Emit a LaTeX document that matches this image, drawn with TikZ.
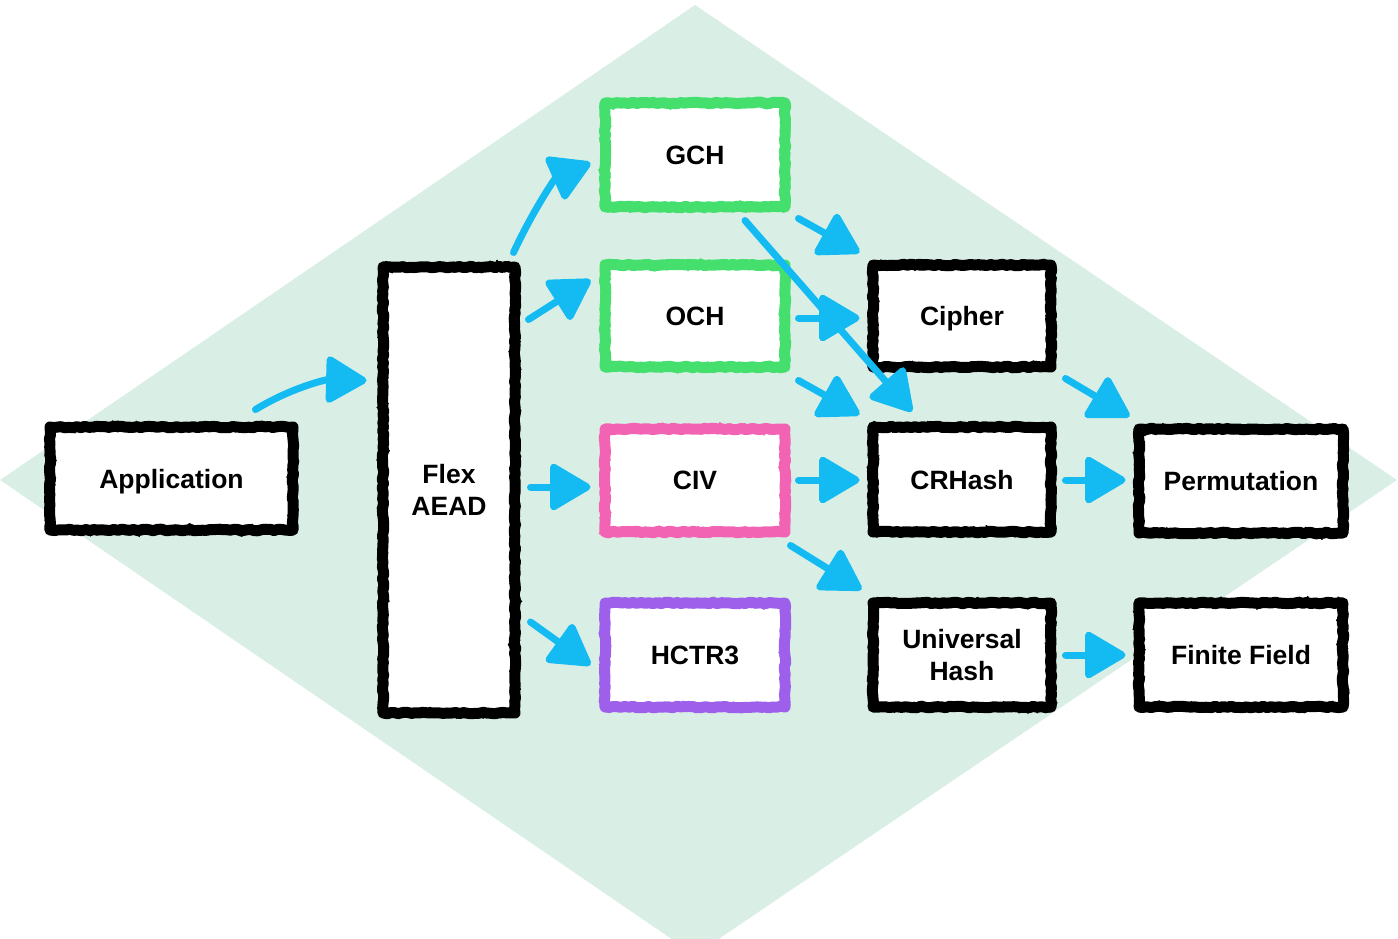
\documentclass[tikz,border=0pt]{standalone}
\usepackage{fontspec}
\setmainfont{Liberation Sans}
\newfontfamily\labelfont{Liberation Sans}
\usetikzlibrary{arrows.meta,calc,decorations.pathmorphing}
\definecolor{mint}{HTML}{D9EFE6}
\definecolor{arrowblue}{HTML}{14BBF2}
\definecolor{boxgreen}{HTML}{45DF6E}
\definecolor{boxpink}{HTML}{F263B4}
\definecolor{boxpurple}{HTML}{9E5FEA}
\tikzset{
  box/.style={draw=black, fill=white, line width=11pt, line join=round, inner sep=0pt, align=center,
    text depth=0pt,
    font=\labelfont\bfseries\fontsize{26.5}{32}\selectfont,
    decorate, decoration={random steps, segment length=4pt, amplitude=0.8pt},
    postaction={draw, line width=1.6pt, line join=round, decorate,
      decoration={random steps, segment length=1.5pt, amplitude=5.5pt}}},
  arr/.style={draw=arrowblue, line width=7pt, line cap=round,
    -{Triangle[round, width=50pt, length=44pt]}},
}
\begin{document}
\begin{tikzpicture}[x=1pt, y=-1pt]
  \useasboundingbox (0,0) rectangle (1398,939);
  \clip (0,0) rectangle (1398,939);
  % background diamond
  \fill[mint] (695,5) -- (1397,480) -- (695,955) -- (0,480) -- cycle;

  % boxes
  \node[box, minimum width=243pt, minimum height=103pt] (app) at (171.5,478.5) {Application};
  \node[box, minimum width=132pt, minimum height=446pt] (flex) at (449,490) {Flex\\AEAD};
  \node[box, draw=boxgreen, minimum width=180pt, minimum height=104pt] (gch) at (695,155) {GCH};
  \node[box, draw=boxgreen, minimum width=180pt, minimum height=102pt] (och) at (695,316) {OCH};
  \node[box, draw=boxpink, minimum width=180pt, minimum height=103pt] (civ) at (695,480.5) {CIV};
  \node[box, draw=boxpurple, minimum width=180pt, minimum height=104pt] (hctr) at (695,655) {HCTR3};
  \node[box, minimum width=178pt, minimum height=102pt] (cipher) at (962,316) {Cipher};
  \node[box, minimum width=178pt, minimum height=105pt] (crhash) at (962,479.5) {CRHash};
  \node[box, minimum width=178pt, minimum height=104pt] (uhash) at (962,655) {Universal\\Hash};
  \node[box, minimum width=204pt, minimum height=104pt] (perm) at (1241,481) {Permutation};
  \node[box, minimum width=204pt, minimum height=104pt] (ff) at (1241,655) {Finite Field};

  % connectors
  \draw[arr] ($(app.north east)+(-43,-12)$) .. controls ($(app.north east)+(-5,-35)$) and ($(flex.north west)+(-50,118)$) .. ($(flex.north west)+(-11,119)$);
  \draw[arr] ($(flex.north east)+(-7,-9)$) .. controls ($(flex.north east)+(12,-50)$) and ($(gch.west)+(-45,24)$) .. ($(gch.west)+(-9,8)$);
  \draw[arr] ($(flex.north east)+(8,58)$) -- ($(och.west)+(-9,-36)$);
  \draw[arr] ($(flex.east)+(10,-3)$) -- ($(civ.west)+(-9,6.5)$);
  \draw[arr] ($(flex.east)+(10,132)$) -- ($(hctr.west)+(-9,10)$);
  \draw[arr] ($(gch.south east)+(8,6)$) -- ($(cipher.north west)+(-8,-7)$);
  \draw[arr] ($(gch.south)+(50,8)$) -- ($(crhash.north)+(-50,-10)$);
  \draw[arr] ($(och.east)+(8,2)$) -- ($(cipher.west)+(-8,2)$);
  \draw[arr] ($(och.south east)+(8,8)$) -- ($(crhash.north west)+(-8,-7)$);
  \draw[arr] ($(civ.east)+(8,-0.5)$) -- ($(crhash.west)+(-8,0.5)$);
  \draw[arr] ($(civ.south east)+(0,8)$) -- ($(uhash.north west)+(-6,-8)$);
  \draw[arr] ($(cipher.south east)+(9,6)$) -- ($(perm.north west)+(-4,-7)$);
  \draw[arr] ($(crhash.east)+(9,0.5)$) -- ($(perm.west)+(-8,-1)$);
  \draw[arr] ($(uhash.east)+(9,0)$) -- ($(ff.west)+(-8,0)$);
\end{tikzpicture}
\end{document}
